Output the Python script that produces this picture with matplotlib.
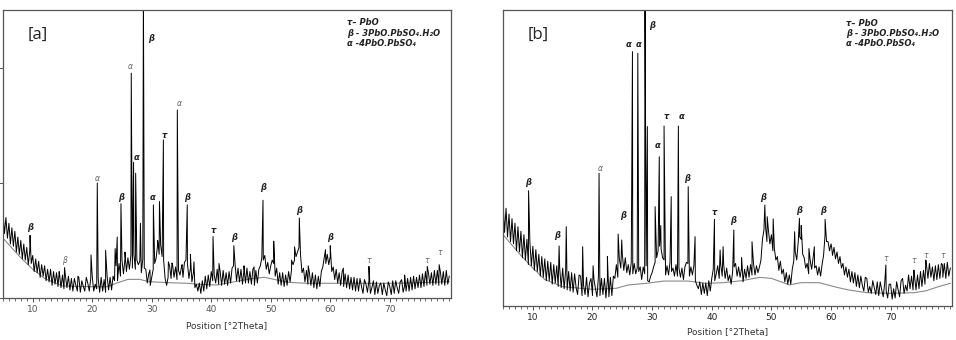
"""XRD patterns of the two lead oxide / basic lead sulphate samples, [a] and [b].

Each pattern = a scan sampled every 0.25 deg plus the peak tops read off the picture,
with the fitted background drawn in grey underneath.
"""

import matplotlib

matplotlib.use("Agg")
import matplotlib.pyplot as plt
import numpy as np
from matplotlib.ticker import MultipleLocator


# ---------------------------------------------------------------------------
# data (counts)
# ---------------------------------------------------------------------------
GRID_START, GRID_STOP, GRID_STEP = 5.0, 80.0, 0.25

scan_a = [
    760, 560, 700, 520, 650, 470, 610, 450, 580, 400, 530, 380, 500, 340, 470, 330,
    440, 290, 410, 300, 370, 230, 340, 220, 320, 180, 290, 190, 280, 150, 250, 140,
    250, 110, 230, 120, 220, 100, 210, 90, 200, 80, 190, 90, 190, 70, 170, 60,
    170, 110, 60, 180, 50, 150, 100, 60, 180, 130, 60, 170, 190, 60, 120, 80,
    170, 50, 180, 60, 160, 50, 190, 70, 180, 70, 190, 150, 280, 150, 300, 190,
    330, 210, 340, 230, 350, 250, 370, 260, 380, 250, 330, 290, 320, 220, 340, 260,
    250, 130, 210, 110, 180, 250, 300, 350, 470, 380, 460, 360, 330, 170, 110, 180,
    280, 170, 290, 180, 270, 160, 240, 200, 270, 180, 310, 330, 300, 170, 260, 140,
    220, 90, 120, 60, 130, 40, 150, 60, 190, 80, 200, 100, 230, 150, 200, 130,
    250, 120, 230, 110, 240, 120, 220, 110, 230, 130, 260, 280, 300, 150, 260, 140,
    250, 120, 240, 130, 260, 130, 230, 120, 250, 110, 240, 130, 250, 280, 350, 330,
    370, 250, 310, 210, 280, 330, 300, 190, 260, 120, 220, 110, 220, 100, 200, 110,
    230, 140, 250, 290, 330, 360, 400, 440, 380, 220, 260, 140, 240, 120, 220, 110,
    220, 90, 200, 80, 190, 100, 230, 270, 350, 300, 380, 290, 360, 230, 270, 160,
    250, 130, 220, 110, 230, 100, 210, 90, 200, 80, 180, 70, 180, 60, 170, 60,
    170, 100, 40, 160, 120, 50, 150, 40, 90, 150, 30, 140, 40, 110, 130, 30,
    130, 70, 20, 140, 100, 30, 150, 40, 150, 90, 40, 140, 160, 50, 110, 60,
    170, 60, 180, 70, 190, 80, 180, 90, 200, 90, 210, 100, 230, 110, 220, 120,
    220, 110, 240, 120, 240, 110, 230, 120, 230, 110, 240, 120, 190,
]
peak_pos_a = [9.55, 14.45, 15.35, 17.6, 19.8, 20.85, 22.25, 23.85, 24.2, 24.83, 25.5,
              26.56, 26.95, 27.3, 28.1, 28.6, 29.7, 30.28, 31.0, 31.3, 31.96, 32.8,
              33.4, 34.3, 35.1, 35.97, 36.5, 37.1, 40.3, 41.3, 43.8, 45.5, 47.2,
              48.7, 50.5, 53.5, 54.0, 54.8, 56.3, 59.2, 60.0, 62.2, 66.5, 72.5,
              76.3, 78.3]
peak_int_a = [545, 230, 265, 190, 375, 1000, 415, 430, 530, 820, 400,
              1955, 1180, 1085, 650, 2700, 245, 810, 500, 840, 1375, 315,
              305, 1635, 290, 810, 380, 315, 535, 300, 455, 280, 270,
              850, 495, 330, 445, 695, 280, 420, 455, 260, 275, 200,
              275, 290]
bg_pos_a = [5, 8, 10, 12, 15, 20, 22.5, 24, 26, 28, 29.5, 33, 36, 38, 41, 44, 47, 49,
            51, 53, 56, 60, 65, 70, 75, 80]
bg_int_a = [520, 350, 250, 170, 105, 98, 98, 128, 162, 162, 142, 133, 128, 119, 113,
            142, 170, 180, 157, 136, 128, 128, 128, 128, 133, 142]

scan_b = [
    900, 640, 850, 600, 800, 560, 760, 540, 720, 480, 690, 470, 650, 420, 620, 400,
    580, 360, 560, 350, 520, 310, 490, 300, 450, 260, 430, 250, 410, 220, 390, 220,
    380, 190, 360, 200, 350, 170, 330, 160, 330, 150, 310, 140, 300, 130, 290, 120,
    280, 160, 100, 270, 260, 90, 180, 100, 250, 80, 200, 240, 90, 230, 150, 80,
    260, 90, 240, 100, 240, 70, 230, 80, 250, 90, 260, 240, 360, 250, 410, 330,
    450, 310, 420, 290, 360, 270, 380, 280, 370, 280, 330, 300, 340, 230, 340, 280,
    350, 220, 210, 260, 290, 340, 380, 420, 480, 520, 500, 420, 400, 270, 350, 270,
    380, 300, 330, 260, 360, 260, 330, 250, 330, 230, 340, 380, 370, 260, 340, 270,
    350, 220, 180, 150, 210, 100, 200, 110, 200, 90, 220, 130, 240, 320, 220, 280,
    350, 240, 360, 260, 360, 240, 330, 220, 270, 190, 300, 340, 370, 260, 340, 250,
    330, 210, 320, 240, 350, 250, 360, 270, 370, 270, 350, 290, 340, 400, 580, 660,
    700, 560, 660, 540, 620, 480, 500, 400, 430, 310, 390, 280, 320, 210, 290, 190,
    270, 190, 320, 390, 470, 400, 560, 600, 580, 450, 420, 330, 370, 280, 400, 320,
    420, 330, 350, 270, 340, 260, 360, 440, 620, 560, 560, 480, 540, 440, 510, 410,
    470, 370, 430, 330, 370, 270, 340, 250, 320, 210, 300, 200, 290, 170, 270, 160,
    260, 180, 130, 250, 240, 120, 170, 110, 220, 160, 100, 210, 90, 210, 140, 80,
    200, 130, 70, 190, 190, 60, 150, 70, 210, 140, 80, 220, 240, 110, 180, 130,
    270, 150, 260, 140, 260, 140, 270, 150, 300, 170, 310, 190, 360, 240, 370, 250,
    340, 220, 350, 230, 360, 240, 370, 250, 370, 240, 380, 260, 330,
]
peak_pos_b = [9.28, 14.4, 15.6, 18.35, 20.1, 21.1, 22.5, 24.3, 24.9, 26.7, 27.6, 28.8,
              29.2, 30.5, 31.2, 31.45, 32.0, 33.2, 34.4, 36.05, 37.2, 40.45, 41.4,
              41.9, 43.7, 45.0, 46.75, 48.9, 49.3, 50.3, 53.9, 54.7, 55.0, 56.3,
              57.2, 59.0, 60.1, 69.2, 73.9, 75.9, 78.7]
peak_int_b = [1003, 522, 690, 516, 350, 1154, 430, 626, 574, 2212, 2197, 2800,
              1560, 864, 1298, 700, 1565, 951, 1565, 1038, 603, 754, 487,
              516, 661, 420, 559, 878, 777, 757, 646, 762, 700, 500,
              515, 754, 515, 357, 313, 400, 357]
bg_pos_b = [5, 8, 10, 12, 15, 20, 24, 26, 29, 32, 36, 39, 42, 45, 48, 50, 52, 53, 55,
            58, 61, 63, 66, 70, 74, 76, 78, 80]
bg_int_b = [620, 440, 330, 230, 168, 145, 154, 183, 197, 217, 217, 197, 203, 220, 249,
            240, 203, 183, 203, 203, 162, 139, 116, 110, 116, 133, 168, 197]

# phase labels: (2theta, counts, symbol, strong)
labels_a = [
    (9.55, 609, "β", True), (15.35, 330, "β", False), (20.87, 1035, "α", False),
    (24.83, 878, "β", True), (26.39, 2017, "α", False), (27.5, 1220, "α", True),
    (29.85, 2258, "β", True), (30.18, 876, "α", True), (32.12, 1417, "τ", True),
    (34.58, 1693, "α", False), (35.97, 876, "β", True), (40.32, 591, "τ", True),
    (43.78, 522, "β", True), (48.68, 965, "β", True), (54.7, 765, "β", True),
    (60.0, 522, "β", True), (66.52, 330, "τ", False), (76.27, 330, "τ", False),
    (78.34, 394, "τ", False),
]
labels_b = [
    (9.28, 1072, "β", True), (13.98, 617, "β", True), (21.26, 1200, "α", False),
    (25.18, 783, "β", True), (26.13, 2278, "α", True), (27.7, 2278, "α", True),
    (29.95, 2443, "β", True), (30.89, 1400, "α", True), (32.3, 1646, "τ", True),
    (34.87, 1646, "α", True), (35.93, 1110, "β", True), (40.42, 811, "τ", True),
    (43.5, 742, "β", True), (48.6, 945, "β", True), (54.71, 829, "β", True),
    (58.62, 829, "β", True), (69.16, 417, "τ", False), (73.81, 394, "τ", False),
    (75.88, 435, "τ", False), (78.69, 435, "τ", False),
]

LEGEND = ["τ– PbO", "β - 3PbO.PbSO₄.H₂O", "α -4PbO.PbSO₄"]


def build_pattern(scan, peak_pos, peak_int):
    grid = np.arange(GRID_START, GRID_STOP + GRID_STEP / 2, GRID_STEP)
    x = np.concatenate([grid, peak_pos])
    y = np.concatenate([scan, peak_int]).astype(float)
    order = np.argsort(x, kind="stable")
    return x[order], y[order]


def draw_panel(ax, scan, peak_pos, peak_int, bg_pos, bg_int, labels, tag, ymax,
               tick_color, legend_xy, show_yticks, labelpad):
    x, y = build_pattern(scan, peak_pos, peak_int)
    ax.plot(bg_pos, bg_int, color="#8a8a8a", linewidth=0.8, zorder=1)
    ax.plot(x, y, color="black", linewidth=0.7, zorder=2)

    for pos, height, sym, strong in labels:
        ax.text(pos, height, sym, ha="center", va="center", fontsize=6 if strong else 5.5,
                style="italic", fontweight="bold" if strong else "normal",
                color="#222222" if strong else "#666666")

    ax.set_xlim(5, 80.3)
    ax.set_ylim(0, ymax)
    ax.xaxis.set_major_locator(MultipleLocator(10))
    ax.xaxis.set_minor_locator(MultipleLocator(1))
    ax.set_xticks(range(10, 80, 10))
    ax.tick_params(axis="x", which="major", direction="out", length=3, width=0.7,
                   labelsize=6.5, colors="#555555", labelcolor=tick_color, pad=2)
    ax.tick_params(axis="x", which="minor", direction="out", length=2, width=0.6,
                   colors="#555555")
    if show_yticks:
        ax.set_yticks([0, 1000, 2000])
        ax.tick_params(axis="y", direction="out", length=3, width=0.7, colors="#555555",
                       labelleft=False)
    else:
        ax.set_yticks([])

    for spine in ax.spines.values():
        spine.set_color("#555555")
        spine.set_linewidth(0.9)

    ax.set_xlabel("Position [°2Theta]", fontsize=6.5, color="#333333", labelpad=labelpad)
    ax.text(0.055, 0.915, tag, transform=ax.transAxes, fontsize=12, ha="left",
            va="center", color="#222222", family="Open Sans")
    lx, ly = legend_xy
    for i, line in enumerate(LEGEND):
        ax.text(lx, ly - i * 0.035, line, transform=ax.transAxes, fontsize=6,
                style="italic", fontweight="bold", ha="left", va="center", color="#222222")


def main():
    fig = plt.figure(figsize=(9.56, 3.4), dpi=100)
    ax_a = fig.add_axes([0.0031, 0.1235, 0.4687, 0.8471])
    ax_b = fig.add_axes([0.5262, 0.1000, 0.4697, 0.8706])

    draw_panel(ax_a, scan_a, peak_pos_a, peak_int_a, bg_pos_a, bg_int_a, labels_a,
               "[a]", 2504, "#555555", (0.768, 0.955), True, 5.5)
    draw_panel(ax_b, scan_b, peak_pos_b, peak_int_b, bg_pos_b, bg_int_b, labels_b,
               "[b]", 2574, "#222222", (0.764, 0.956), False, 4)

    fig.savefig("out.png", dpi=100)


if __name__ == "__main__":
    main()
